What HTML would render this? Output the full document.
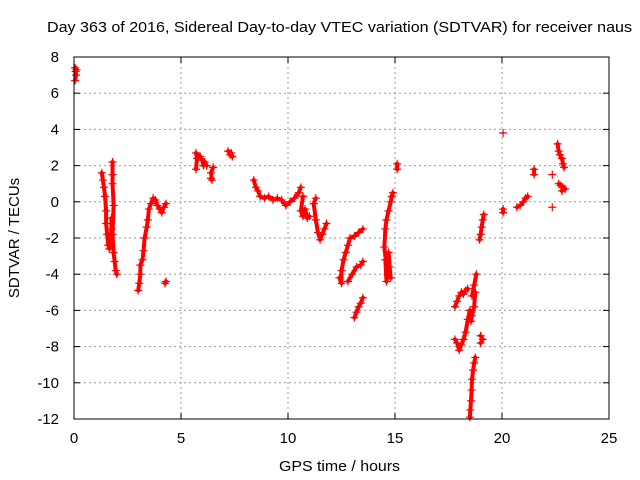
<!DOCTYPE html>
<html><head><meta charset="utf-8"><style>
body{margin:0;background:#fff}
svg{display:block;font-family:"Liberation Sans",Arial,sans-serif}
</style></head><body>
<svg id="chart" width="640" height="480" xmlns="http://www.w3.org/2000/svg">
<text x="47" y="32" font-size="15" textLength="585" lengthAdjust="spacingAndGlyphs">Day 363 of 2016, Sidereal Day-to-day VTEC variation (SDTVAR) for receiver naus</text>
<text x="279" y="471" font-size="15" textLength="121" lengthAdjust="spacingAndGlyphs">GPS time / hours</text>
<text transform="translate(19,238) rotate(-90)" font-size="15" text-anchor="middle">SDTVAR / TECUs</text>
<g id="grid"></g><g id="ticks"></g><g id="marks"></g>
<rect x="74" y="57" width="535" height="362" fill="none" stroke="#000" stroke-width="1"/>
</svg>
<script>
const xTicks=[0,5,10,15,20,25];
const yTicks=[8,6,4,2,0,-2,-4,-6,-8,-10,-12];
// strands of [hour, value]
const strand0=[[0.05,6.7],[0.1,7.0],[0.08,7.2],[0.12,7.3],[0.05,7.4]];
const strand1=[[1.3,1.6],[1.35,1.2],[1.4,0.8],[1.45,0.3],[1.5,-0.5],[1.5,-1.2],[1.55,-1.8],[1.6,-2.4],[1.65,-2.6],[1.7,-2.2],[1.75,-1.5],[1.75,-0.9]];
const strand2=[[1.8,2.2],[1.8,1.5],[1.8,1.0],[1.85,-0.2],[1.8,-1.8],[1.85,-2.8],[1.9,-3.3],[1.95,-3.8],[2.0,-4.0]];
const strand3=[[3.0,-4.9],[3.05,-4.5],[3.1,-4.0],[3.1,-3.5],[3.2,-3.2],[3.25,-2.7],[3.3,-2.0],[3.4,-1.4],[3.45,-1.0],[3.5,-0.4],[3.6,-0.1],[3.7,0.2],[3.8,0.1],[3.9,-0.2],[4.0,-0.4],[4.1,-0.6],[4.2,-0.3],[4.3,-0.1]];
const strand4=[[4.25,-4.5],[4.3,-4.4]];
const strand5=[[5.7,1.8],[5.75,2.4],[5.7,2.7],[5.9,2.5],[6.0,2.3],[6.05,2.0],[6.1,2.2],[6.2,2.0]];
const strand6=[[6.4,1.3],[6.45,1.2],[6.4,1.6],[6.5,1.9]];
const strand7=[[7.2,2.8],[7.35,2.7],[7.3,2.6],[7.4,2.5]];
const strand8=[[8.4,1.2],[8.5,0.8],[8.6,0.6],[8.7,0.3],[8.9,0.2],[9.1,0.3],[9.3,0.1],[9.5,0.2],[9.7,0.1],[9.9,-0.2],[10.1,0.0],[10.3,0.2],[10.5,0.5],[10.6,0.8]];
const strand9=[[10.7,0.3],[10.6,-0.5],[10.7,-0.8],[10.8,-0.4],[10.9,-0.9],[11.0,-0.8]];
const strand10=[[11.3,0.2],[11.2,-0.1],[11.3,-1.0],[11.4,-1.7],[11.5,-2.1],[11.6,-1.8],[11.7,-1.5],[11.8,-1.2]];
const strand11=[[12.4,-4.2],[12.5,-4.5],[12.5,-3.8],[12.6,-3.2],[12.7,-2.8],[12.8,-2.4],[12.9,-2.0],[13.1,-1.9],[13.3,-1.7],[13.5,-1.5]];
const strand12=[[12.8,-4.4],[13.0,-4.0],[13.2,-3.6],[13.4,-3.5],[13.5,-3.3]];
const strand13=[[13.1,-6.4],[13.2,-6.1],[13.3,-5.8],[13.4,-5.6],[13.5,-5.3]];
const strand14=[[14.8,-4.2],[14.75,-3.6],[14.7,-2.8],[14.55,-3.2],[14.6,-4.4],[14.65,-4.0],[14.5,-2.5],[14.55,-1.5],[14.6,-1.0],[14.7,-0.5],[14.8,0.0],[14.85,0.3],[14.9,0.5]];
const strand15=[[15.1,1.8],[15.1,2.1]];
const strand16=[[17.8,-7.6],[17.9,-7.8],[18.0,-8.2],[18.1,-7.9],[18.2,-7.6],[18.3,-7.2],[18.4,-6.5],[18.5,-6.0],[18.55,-6.6],[18.6,-6.3],[18.7,-5.8],[18.75,-5.0],[18.6,-5.2],[18.7,-4.6],[18.8,-4.0]];
const strand17=[[17.8,-5.8],[17.9,-5.5],[18.0,-5.2],[18.1,-5.0],[18.2,-5.1],[18.3,-4.9],[18.4,-4.8]];
const strand18=[[18.5,-11.9],[18.52,-11.5],[18.55,-11.0],[18.58,-10.4],[18.6,-9.8],[18.65,-9.3],[18.7,-8.9],[18.75,-8.6]];
const strand19=[[19.0,-7.4],[19.1,-7.6],[19.0,-7.8]];
const strand20=[[18.95,-2.1],[19.0,-1.8],[19.05,-1.4],[19.1,-1.0],[19.15,-0.7]];
const strand21=[[20.05,3.8]];
const strand22=[[20.05,-0.6],[20.05,-0.4]];
const strand23=[[20.7,-0.3],[20.85,-0.2],[21.0,0.0],[21.1,0.2],[21.2,0.3]];
const strand24=[[21.5,1.5],[21.5,1.8]];
const strand25=[[22.35,1.5]];
const strand26=[[22.35,-0.3]];
const strand27=[[22.6,3.2],[22.65,2.8],[22.7,2.6],[22.8,2.4],[22.85,2.1],[22.9,1.9]];
const strand28=[[22.65,1.0],[22.75,0.9],[22.85,0.8],[22.95,0.7],[22.8,0.6]];
const strands=[strand0,strand1,strand2,strand3,strand4,strand5,strand6,strand7,strand8,strand9,strand10,strand11,strand12,strand13,strand14,strand15,strand16,strand17,strand18,strand19,strand20,strand21,strand22,strand23,strand24,strand25,strand26,strand27,strand28];

const X0=74,X1=609,Y0=57,Y1=419;
const sx=h=>X0+(h-0)/25*(X1-X0);
const sy=v=>Y0+(8-v)/20*(Y1-Y0);
const NS="http://www.w3.org/2000/svg";
const grid=document.getElementById('grid'),ticks=document.getElementById('ticks'),marks=document.getElementById('marks');
function mk(tag,attrs,parent){const e=document.createElementNS(NS,tag);for(const k in attrs)e.setAttribute(k,attrs[k]);parent.appendChild(e);return e;}
xTicks.forEach(t=>{
  const x=sx(t);
  if(t>0&&t<25){const g=mk('line',{x1:x,x2:x,y1:Y0,y2:Y1,stroke:'#999','stroke-dasharray':'2,3'},grid);
  
  }
  mk('line',{x1:x,x2:x,y1:Y1,y2:Y1-6,stroke:'#000'},ticks);
  mk('line',{x1:x,x2:x,y1:Y0,y2:Y0+6,stroke:'#000'},ticks);
  const l=mk('text',{x:x,y:Y1+24,'font-size':15,'text-anchor':'middle'},ticks);l.textContent=t;
  
  
});
yTicks.forEach(t=>{
  const y=sy(t);
  if(t>-12&&t<8){const g=mk('line',{x1:X0,x2:X1,y1:y,y2:y,stroke:'#999','stroke-dasharray':'2,3'},grid);
  
  }
  mk('line',{x1:X0,x2:X0+6,y1:y,y2:y,stroke:'#000'},ticks);
  mk('line',{x1:X1,x2:X1-6,y1:y,y2:y,stroke:'#000'},ticks);
  const l=mk('text',{x:X0-15,y:y+5,'font-size':15,'text-anchor':'end'},ticks);l.textContent=t;
  
  
});
strands.forEach(s=>{
  if(s.length>1){const p=mk('polyline',{points:s.map(d=>sx(d[0])+','+sy(d[1])).join(' '),fill:'none',stroke:'#f00','stroke-width':4,'stroke-linejoin':'round','stroke-linecap':'round'},marks);
  
  }
  s.forEach(d=>{
    const x=sx(d[0]),y=sy(d[1]);
    const g=mk('path',{d:`M${x-4},${y}H${x+4}M${x},${y-4}V${y+4}`,stroke:'#f00','stroke-width':1.2,fill:'none'},marks);
    
    
  });
});
</script>
</body></html>
